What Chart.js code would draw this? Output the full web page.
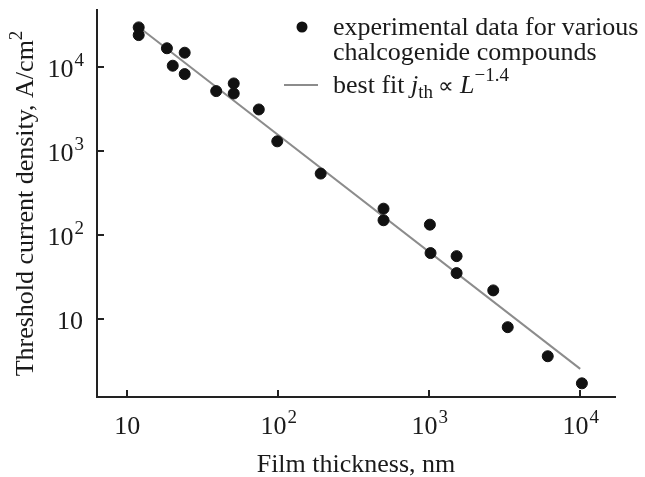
<!DOCTYPE html>
<html>
<head>
<meta charset="utf-8">
<script src="https://cdn.jsdelivr.net/npm/chart.js@4/dist/chart.umd.min.js"></script>
<style>
  html, body { margin: 0; padding: 0; background: #fff; }
  #wrap { width: 645px; height: 477px; }
</style>
</head>
<body>
<div id="wrap"><canvas id="jthChart" width="645" height="477"></canvas></div>
<script>
// measured threshold current density vs film thickness (nm, A/cm^2)
const filmThickness = [11.9, 11.9, 18.3, 20.0, 24.0, 24.0, 38.8, 50.7, 50.7, 74.3, 98.5, 191,
                       498, 498, 1010, 1020, 1518, 1518, 2655, 3310, 6095, 10260];
const thresholdDensity = [29400, 23800, 16600, 10300, 14700, 8190, 5140, 6340, 4820, 3110, 1300, 538,
                          206, 150, 133, 61.1, 56.2, 35.3, 22.0, 8.04, 3.63, 1.73];

// end points of the power-law fit line
const fitThickness = [11.9, 10000];
const fitDensity = [29700, 2.57];

// decade ticks, drawn as 10 with a superscript exponent
const xTickValues = [10, 100, 1000, 10000];
const xTickExponents = ['', '2', '3', '4'];
const yTickValues = [10, 100, 1000, 10000];
const yTickExponents = ['', '2', '3', '4'];

const serif = "'Liberation Serif', 'Times New Roman', Times, serif";
const textColor = '#1a1a1a';
const axisColor = '#222';

function toPoints(xs, ys) {
    return xs.map((v, i) => ({ x: v, y: ys[i] }));
}

// draws "10" followed by a raised exponent; align is 'center' or 'right'
function drawPower(ctx, px, baseline, exp, align) {
    ctx.font = '26px ' + serif;
    const bw = ctx.measureText('10').width;
    ctx.font = '19px ' + serif;
    const ew = exp ? ctx.measureText(exp).width : 0;
    const total = bw + ew;
    const start = align === 'center' ? px - total / 2 : px - total;
    ctx.textAlign = 'left';
    ctx.textBaseline = 'alphabetic';
    ctx.font = '26px ' + serif;
    ctx.fillText('10', start, baseline);
    if (exp) {
        ctx.font = '19px ' + serif;
        ctx.fillText(exp, start + bw + 1, baseline - 11);
    }
}

// writes a run of [text, font, dy] pieces one after another
function drawRuns(ctx, x, baseline, runs) {
    ctx.textAlign = 'left';
    ctx.textBaseline = 'alphabetic';
    let cx = x;
    runs.forEach(([text, font, dy]) => {
        ctx.font = font;
        ctx.fillText(text, cx, baseline + (dy || 0));
        cx += ctx.measureText(text).width;
    });
}

const decoration = {
    id: 'decoration',
    afterDraw(chart) {
        const { ctx, chartArea: area, scales: { x, y } } = chart;
        ctx.save();

        // tick marks point into the plot
        ctx.strokeStyle = axisColor;
        ctx.lineWidth = 2;
        ctx.beginPath();
        xTickValues.forEach((v) => {
            const px = Math.round(x.getPixelForValue(v));
            ctx.moveTo(px, area.bottom);
            ctx.lineTo(px, area.bottom - 7);
        });
        yTickValues.forEach((v) => {
            const py = Math.round(y.getPixelForValue(v));
            ctx.moveTo(area.left, py);
            ctx.lineTo(area.left + 7, py);
        });
        ctx.stroke();

        ctx.fillStyle = textColor;
        xTickValues.forEach((v, i) => {
            drawPower(ctx, x.getPixelForValue(v), area.bottom + 37, xTickExponents[i], 'center');
        });
        yTickValues.forEach((v, i) => {
            drawPower(ctx, area.left - 14, y.getPixelForValue(v) + 10, yTickExponents[i], 'right');
        });

        // axis titles
        ctx.font = '26px ' + serif;
        ctx.textAlign = 'center';
        ctx.fillText('Film thickness, nm', (area.left + area.right) / 2, 472);

        ctx.save();
        ctx.translate(33, (area.top + area.bottom) / 2);
        ctx.rotate(-Math.PI / 2);
        const yTitle = 'Threshold current density, A/cm';
        ctx.font = '26px ' + serif;
        const tw = ctx.measureText(yTitle).width;
        ctx.font = '19px ' + serif;
        const sw = ctx.measureText('2').width;
        drawRuns(ctx, -(tw + sw) / 2, 0, [
            [yTitle, '26px ' + serif, 0],
            ['2', '19px ' + serif, -11]
        ]);
        ctx.restore();

        // legend
        ctx.fillStyle = '#111';
        ctx.beginPath();
        ctx.arc(302, 27, 5.5, 0, Math.PI * 2);
        ctx.fill();
        ctx.strokeStyle = '#8c8c8c';
        ctx.lineWidth = 2;
        ctx.beginPath();
        ctx.moveTo(284, 85);
        ctx.lineTo(318, 85);
        ctx.stroke();

        ctx.fillStyle = textColor;
        drawRuns(ctx, 333, 35, [['experimental data for various', '26px ' + serif]]);
        drawRuns(ctx, 333, 60, [['chalcogenide compounds', '26px ' + serif]]);
        drawRuns(ctx, 333, 93, [
            ['best fit ', '26px ' + serif, 0],
            ['j', 'italic 26px ' + serif, 0],
            ['th', '19px ' + serif, 5],
            [' \u221D ', '22px ' + serif, 0],
            ['L', 'italic 26px ' + serif, 0],
            ['\u22121.4', '19px ' + serif, -12]
        ]);

        ctx.restore();
    }
};

const logAxis = (min, max, position) => ({
    type: 'logarithmic',
    position: position,
    min: min,
    max: max,
    grid: { display: false },
    ticks: { display: false },
    border: { display: true, color: axisColor, width: 2 }
});

new Chart(document.getElementById('jthChart'), {
    type: 'scatter',
    data: {
        datasets: [
            {
                label: 'experimental data for various chalcogenide compounds',
                data: toPoints(filmThickness, thresholdDensity),
                backgroundColor: '#111',
                borderColor: '#111',
                pointRadius: 5.5,
                pointHoverRadius: 5.5
            },
            {
                label: 'best fit',
                data: toPoints(fitThickness, fitDensity),
                showLine: true,
                borderColor: '#8c8c8c',
                borderWidth: 2,
                pointRadius: 0
            }
        ]
    },
    options: {
        responsive: false,
        animation: false,
        layout: { padding: { left: 89, top: 10, right: 30, bottom: 72 } },
        scales: {
            x: logAxis(6.3, 17000, 'bottom'),
            y: logAxis(1.19, 47300, 'left')
        },
        plugins: {
            legend: { display: false },
            tooltip: { enabled: false }
        }
    },
    plugins: [decoration]
});
</script>
</body>
</html>
